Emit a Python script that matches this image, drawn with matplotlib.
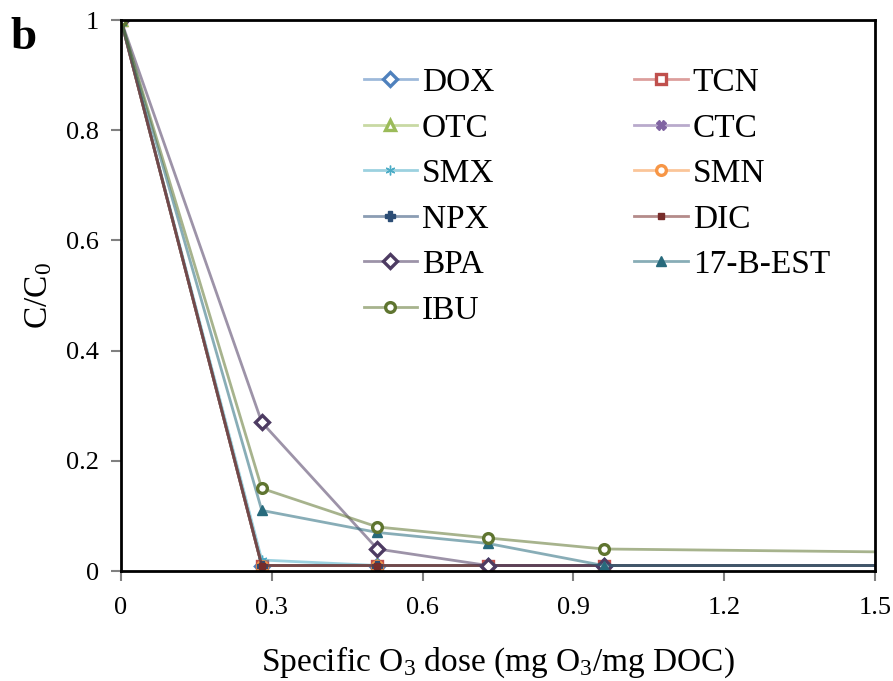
import matplotlib
matplotlib.use('Agg')
import matplotlib.pyplot as plt
from matplotlib.colors import to_rgba

plt.rcParams['font.family'] = ['Liberation Serif', 'DejaVu Serif']
plt.rcParams['mathtext.fontset'] = 'custom'
plt.rcParams['mathtext.rm'] = 'Liberation Serif'
plt.rcParams['mathtext.it'] = 'Liberation Serif:italic'

# doses (last point lies beyond the visible axis range)
dose = [0, 0.28, 0.51, 0.73, 0.96, 2.0]

DOX = [1, 0.01, 0.01, 0.01, 0.01, 0.01]
TCN = [1, 0.01, 0.01, 0.01, 0.01, 0.01]
OTC = [1, 0.01, 0.01, 0.01, 0.01, 0.01]
CTC = [1, 0.01, 0.01, 0.01, 0.01, 0.01]
SMX = [1, 0.02, 0.01, 0.01, 0.01, 0.01]
SMN = [1, 0.01, 0.01, 0.01, 0.01, 0.01]
NPX = [1, 0.01, 0.01, 0.01, 0.01, 0.01]
DIC = [1, 0.01, 0.01, 0.01, 0.01, 0.01]
BPA = [1, 0.27, 0.04, 0.01, 0.01, 0.01]
EST17 = [1, 0.11, 0.07, 0.05, 0.01, 0.01]
IBU = [1, 0.15, 0.08, 0.06, 0.04, 0.03]

series = [
    ('DOX', DOX, '#4F81BD', 'D', True),
    ('TCN', TCN, '#C0504D', 's', True),
    ('OTC', OTC, '#9BBB59', '^', True),
    ('CTC', CTC, '#8064A2', 'X', False),
    ('SMX', SMX, '#4BACC6', (6, 2, 0), False),
    ('SMN', SMN, '#F79646', 'o', True),
    ('NPX', NPX, '#2C4D75', 'P', False),
    ('DIC', DIC, '#772C2A', 's', False),
    ('BPA', BPA, '#4D3B62', 'D', True),
    ('17-B-EST', EST17, '#276A7C', '^', False),
    ('IBU', IBU, '#5F7530', 'o', True),
]

fig = plt.figure(figsize=(8.93, 6.81), dpi=100)
ax = fig.add_axes([0.1355, 0.1615, 0.8445, 0.809])

handles = {}
for name, vals, col, mk, hollow in series:
    line_col = to_rgba(col, 0.55)
    ms = 7
    if name == 'DIC':
        ms = 4.5
    ln, = ax.plot(dose, vals, color=line_col, lw=2, marker=mk, ms=ms,
                  mfc='white' if hollow else col, mec=col, mew=2.4 if hollow else 1,
                  label=name)
    handles[name] = ln

# legend is filled row by row in the reference
order = ['DOX', 'OTC', 'SMX', 'NPX', 'BPA', 'IBU', 'TCN', 'CTC', 'SMN', 'DIC', '17-B-EST']

ax.set_xlim(0, 1.5)
ax.set_ylim(0, 1)
ax.set_xticks([0, 0.3, 0.6, 0.9, 1.2, 1.5])
ax.set_xticklabels(['0', '0.3', '0.6', '0.9', '1.2', '1.5'])
ax.set_yticks([0, 0.2, 0.4, 0.6, 0.8, 1])
ax.set_yticklabels(['0', '0.2', '0.4', '0.6', '0.8', '1'])
ax.tick_params(axis='both', direction='out', length=7, width=1.5, color='#808080',
               labelsize=19)
ax.tick_params(axis='x', pad=12)
ax.tick_params(axis='y', pad=9)
for s in ax.spines.values():
    s.set_linewidth(2)
    s.set_color('black')

ax.set_xlabel('Specific O$_3$ dose (mg O$_3$/mg DOC)', fontsize=24, labelpad=18)
ax.set_ylabel('C/C$_0$', fontsize=24, labelpad=8)

fig.text(0.012, 0.975, 'b', fontsize=34, fontweight='bold', va='top')

ax.legend([handles[n] for n in order], order, loc='upper left',
          bbox_to_anchor=(0.2995, 0.944), ncol=2, frameon=False,
          fontsize=24, handlelength=1.6, handletextpad=0.15, labelspacing=0.45,
          columnspacing=4.2, borderpad=0)

fig.savefig('out.png', dpi=100)
